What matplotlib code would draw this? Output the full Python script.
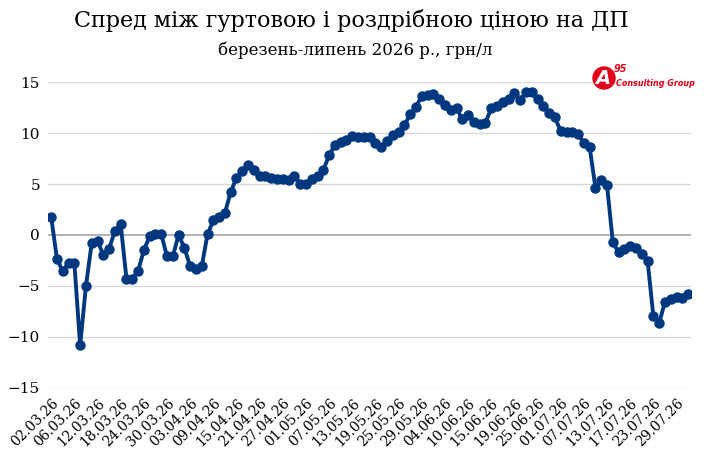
import matplotlib
matplotlib.use("Agg")
import matplotlib.pyplot as plt
from matplotlib.patches import Ellipse
import numpy as np

# дані: спред, грн/л (щоденні значення, 02.03.26 - 31.07.26)
spread = [1.77, -2.39, -3.54, -2.75, -2.75, -10.85, -5.01, -0.79, -0.59, -1.93,
          -1.34, 0.39, 1.05, -4.29, -4.29, -3.54, -1.51, -0.1, 0.1, 0.1,
          -2.1, -2.1, 0.0, -1.25, -3.08, -3.31, -3.08, 0.07, 1.44, 1.77,
          2.16, 4.23, 5.6, 6.26, 6.91, 6.36, 5.77, 5.8, 5.64, 5.54,
          5.5, 5.44, 5.8, 5.05, 5.05, 5.54, 5.77, 6.36, 7.84, 8.82,
          9.15, 9.38, 9.7, 9.65, 9.65, 9.6, 9.0, 8.66, 9.25, 9.8,
          10.07, 10.8, 11.84, 12.6, 13.64, 13.74, 13.84, 13.4, 12.75, 12.26,
          12.5, 11.35, 11.8, 11.12, 10.9, 11.05, 12.43, 12.66, 13.1, 13.4,
          13.9, 13.25, 14.0, 14.08, 13.4, 12.66, 11.94, 11.55, 10.2, 10.07,
          10.07, 9.9, 9.05, 8.6, 4.64, 5.36, 4.87, -0.72, -1.71, -1.38,
          -1.12, -1.28, -1.88, -2.53, -7.96, -8.68, -6.55, -6.25, -6.09, -6.15,
          -5.76]

# підписи осі X (кожна 4-та точка)
date_labels = ["02.03.26", "06.03.26", "12.03.26", "18.03.26", "24.03.26", "30.03.26",
               "03.04.26", "09.04.26", "15.04.26", "21.04.26", "27.04.26", "01.05.26",
               "07.05.26", "13.05.26", "19.05.26", "25.05.26", "29.05.26", "04.06.26",
               "10.06.26", "15.06.26", "19.06.26", "25.06.26", "01.07.26", "07.07.26",
               "13.07.26", "17.07.26", "23.07.26", "29.07.26"]
label_step = 4

y_ticks = [-15, -10, -5, 0, 5, 10, 15]

title = "Спред між гуртовою і роздрібною ціною на ДП"
subtitle = "березень-липень 2026 р., грн/л"

plt.rcParams['font.family'] = ['DejaVu Serif']

W, H = 704, 463
fig = plt.figure(figsize=(W / 100, H / 100), dpi=100)
ax = fig.add_axes([48.3 / W, (H - 387.7) / H, 642.7 / W, 305.4 / H])

x = np.arange(len(spread))
ax.plot(x, spread, color="#003880", lw=2.8, marker="o", ms=6.5, zorder=3)

ax.set_xlim(-0.5, len(spread) - 0.5)
ax.set_ylim(-15, 15)
ax.set_yticks(y_ticks)
ax.set_yticklabels([str(v).replace("-", "\u2212") for v in y_ticks], fontsize=11)
ax.set_xticks(x[::label_step])
ax.set_xticklabels(date_labels, rotation=45, ha="right", rotation_mode="anchor", fontsize=10)
ax.tick_params(length=0, pad=6)

for v in y_ticks:
    if v == 0:
        continue
    ax.axhline(v, color="#d9d9d9", lw=1, zorder=1)
ax.axhline(0, color="#a6a6a6", lw=1.2, zorder=2)

for s in ax.spines.values():
    s.set_visible(False)

fig.text(351 / W, 1 - 20 / H, title, ha="center", va="center", fontsize=16)
fig.text(355 / W, 1 - 50 / H, subtitle, ha="center", va="center", fontsize=12)

# логотип
fig.add_artist(Ellipse((604 / W, 1 - 78 / H), 22 / W, 22 / H, color="#e2001a",
                       transform=fig.transFigure, zorder=5))
fig.text(603 / W, 1 - 79 / H, "A", color="white", fontsize=14, fontweight="bold",
         fontstyle="italic", family="DejaVu Sans", ha="center", va="center", zorder=6)
fig.text(614 / W, 1 - 69 / H, "95", color="#e2001a", fontsize=7, fontweight="bold",
         fontstyle="italic", family="DejaVu Sans", ha="left", va="center", zorder=6)
fig.text(616 / W, 1 - 84 / H, "Consulting Group", color="#e2001a", fontsize=5.8,
         fontweight="bold", fontstyle="italic", family="DejaVu Sans Condensed",
         ha="left", va="center", zorder=6)

fig.savefig("out.png", dpi=100)
